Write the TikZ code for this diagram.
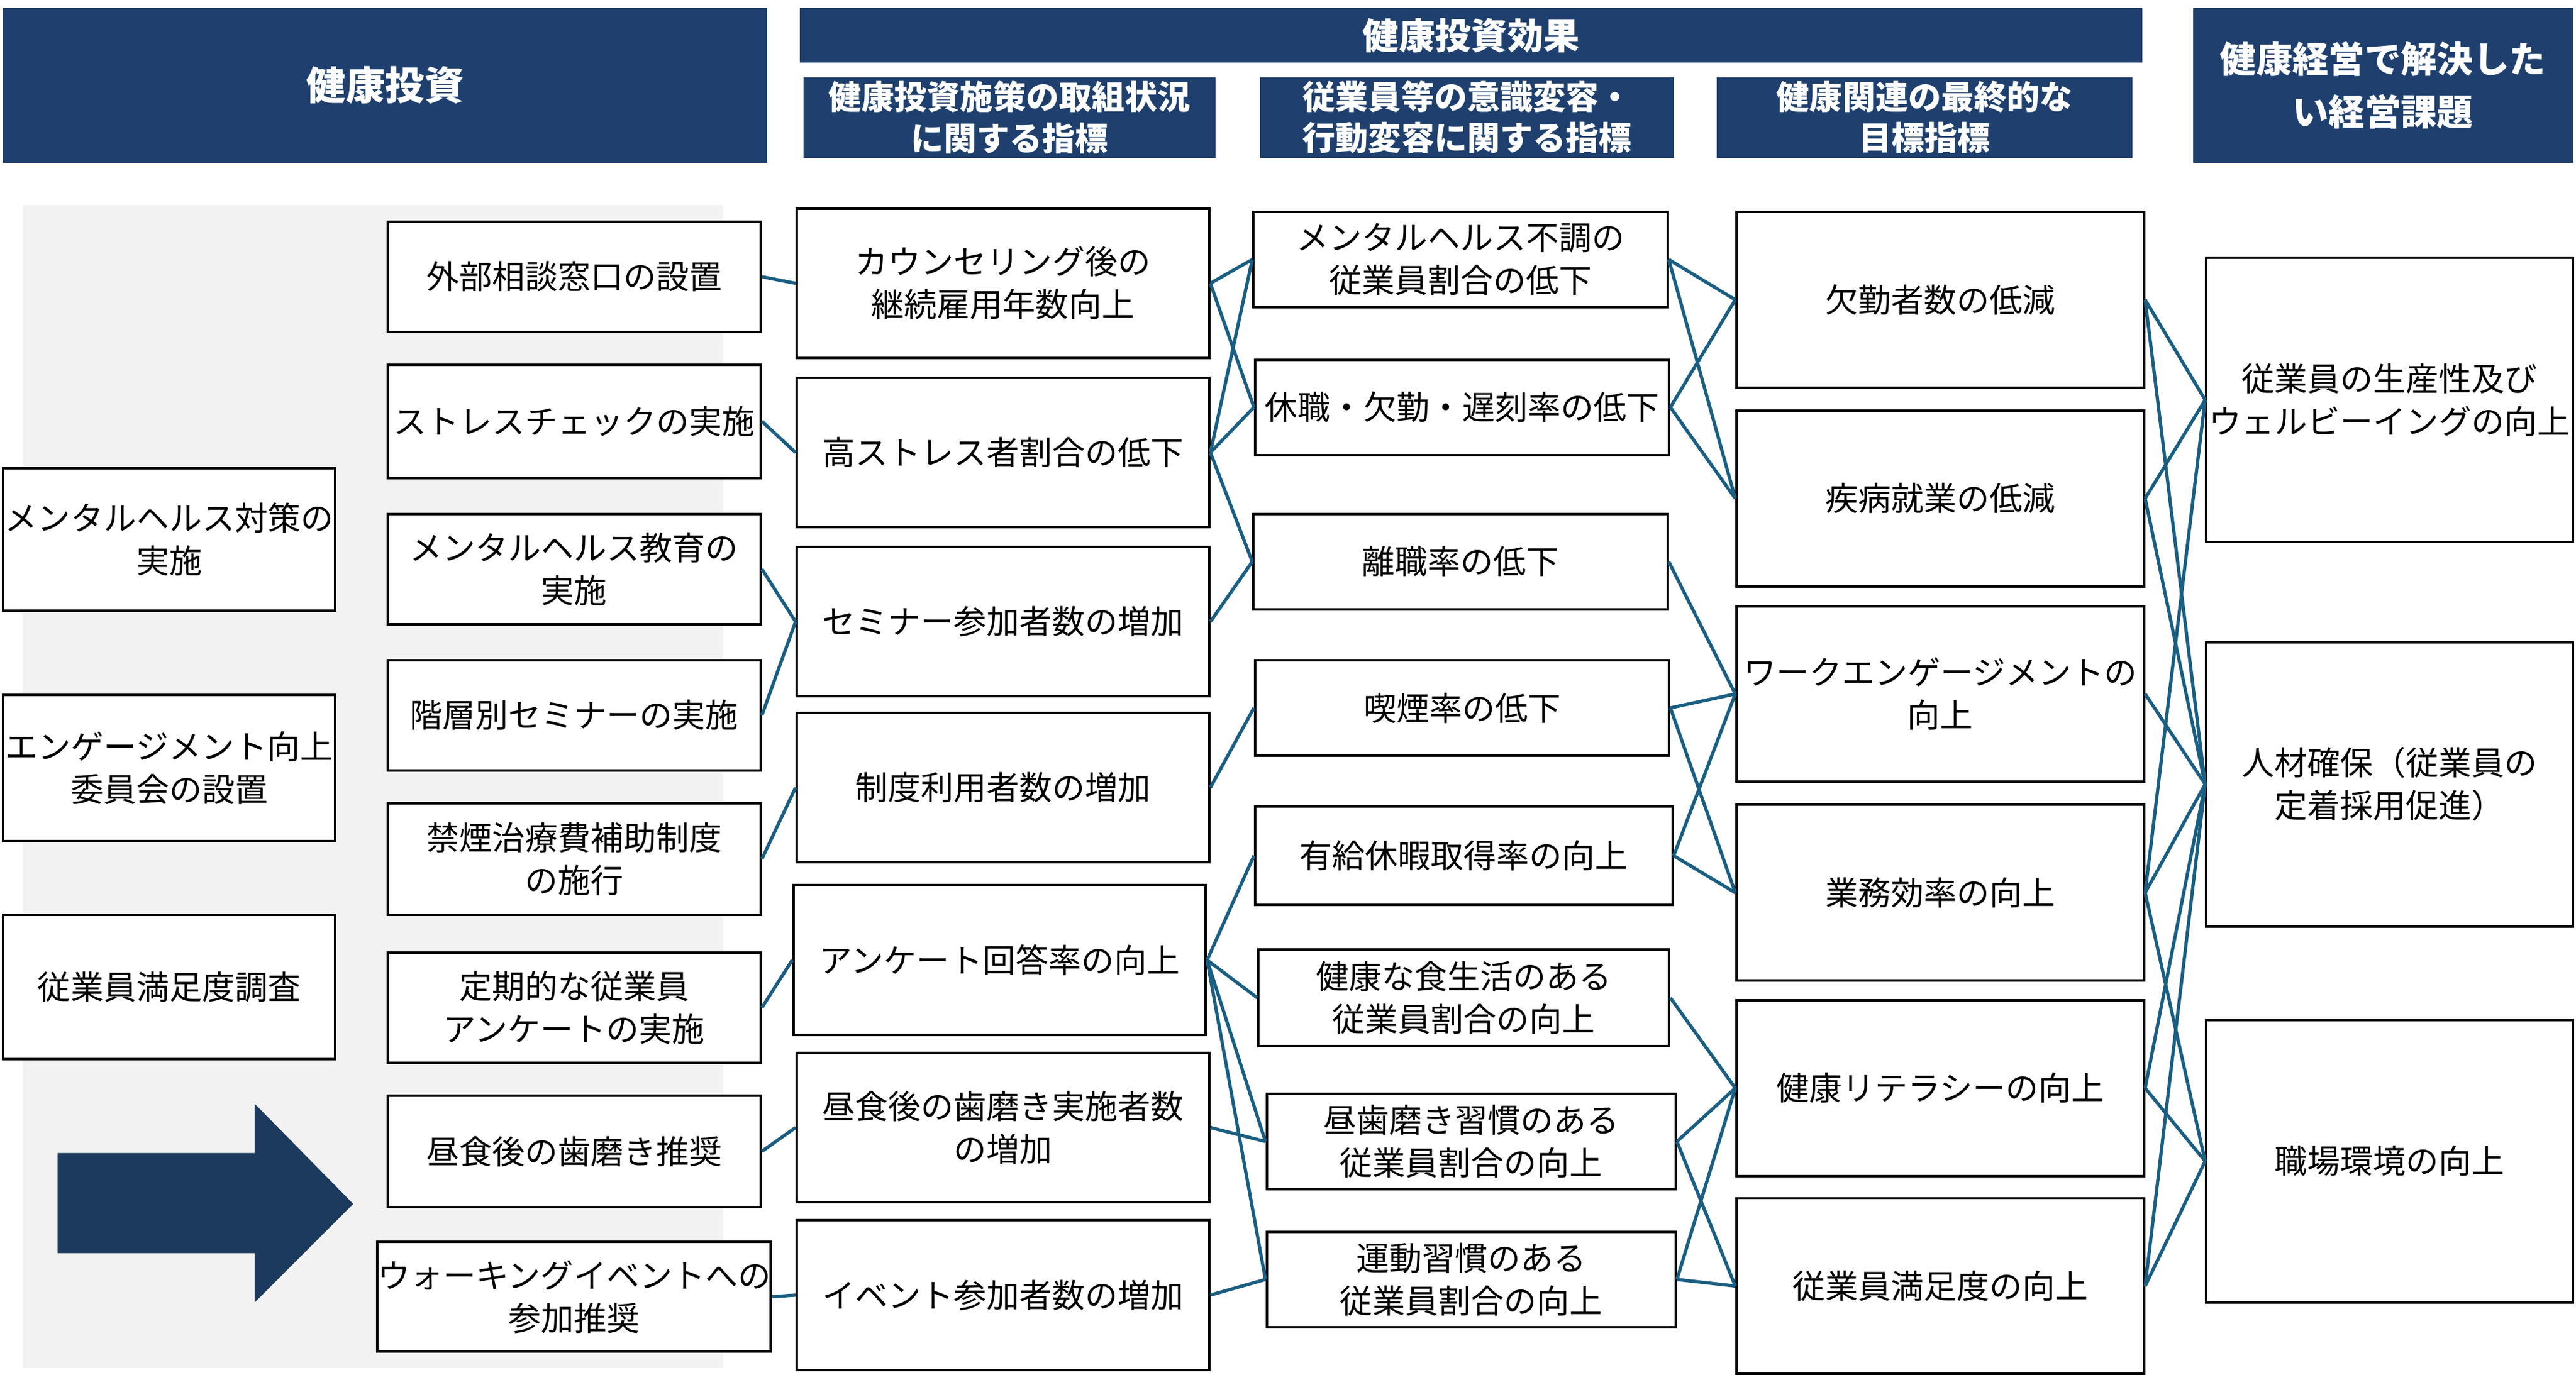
\documentclass[tikz,border=0pt]{standalone}
\usepackage{fontspec}
\setmainfont{Noto Sans CJK JP}
\definecolor{navy}{RGB}{31,64,110}
\definecolor{darrow}{RGB}{27,58,94}
\definecolor{link}{RGB}{26,94,130}
\tikzset{
  box/.style={draw=black,line width=1.5pt,fill=white,align=center,inner sep=0pt,font=\fontsize{20}{26}\selectfont},
  head/.style={fill=navy,text=white,align=center,inner sep=0pt,font=\fontsize{20}{25}\selectfont\bfseries},
  con/.style={draw=link,line width=2pt}
}
\begin{document}
\begin{tikzpicture}[x=1pt,y=1pt]
    \useasboundingbox (0,0) rectangle (1568,-837);

    %%%%%%%%%%%%%%%%%%% Headers %%%%%%%%%%%%%%%%%%%%%%%%%%%%%%%
    \node [head,minimum width=465,minimum height=94,font=\fontsize{24}{30}\selectfont\bfseries] (h1) at (234.5,-52) {健康投資};
    \node [head,minimum width=817,minimum height=33,font=\fontsize{22}{26}\selectfont\bfseries] (h2) at (895.5,-21.5) {健康投資効果};
    \node [head,minimum width=251,minimum height=49] (h21) at (614.5,-71.5) {健康投資施策の取組状況\\に関する指標};
    \node [head,minimum width=252,minimum height=49] (h22) at (893,-71.5) {従業員等の意識変容・\\行動変容に関する指標};
    \node [head,minimum width=253,minimum height=49] (h23) at (1171.5,-71.5) {健康関連の最終的な\\目標指標};
    \node [head,minimum width=231,minimum height=94,font=\fontsize{22}{32}\selectfont\bfseries] (h3) at (1450.5,-52) {健康経営で解決した\\い経営課題};

    % background
    \fill [gray!10] (14,-125) rectangle (440,-833);

    %%%%%%%%%%%%%%%%%%% Left %%%%%%%%%%%%%%%%%%%%%%%%%%%%%%%
    \node [box,minimum width=202,minimum height=87] (a1) at (103,-328.5) {メンタルヘルス対策の\\実施};
    \node [box,minimum width=202,minimum height=89] (a2) at (103,-467.5) {エンゲージメント向上\\委員会の設置};
    \node [box,minimum width=202,minimum height=88] (a3) at (103,-601) {従業員満足度調査};

    % big arrow
    \fill [darrow] (35,-702) -- (155,-702) -- (155,-672) -- (215,-733) -- (155,-793) -- (155,-763) -- (35,-763) -- cycle;

    %%%%%%%%%%%%%%%%%%% Measures %%%%%%%%%%%%%%%%%%%%%%%%%%%%%%%
    \node [box,minimum width=227,minimum height=67] (b1) at (349.5,-168.5) {外部相談窓口の設置};
    \node [box,minimum width=227,minimum height=69] (b2) at (349.5,-256.5) {ストレスチェックの実施};
    \node [box,minimum width=227,minimum height=67] (b3) at (349.5,-346.5) {メンタルヘルス教育の\\実施};
    \node [box,minimum width=227,minimum height=67] (b4) at (349.5,-435.5) {階層別セミナーの実施};
    \node [box,minimum width=227,minimum height=68] (b5) at (349.5,-523) {禁煙治療費補助制度\\の施行};
    \node [box,minimum width=227,minimum height=67] (b6) at (349.5,-613.5) {定期的な従業員\\アンケートの実施};
    \node [box,minimum width=227,minimum height=68] (b7) at (349.5,-701) {昼食後の歯磨き推奨};
    \node [box,minimum width=227,minimum height=67] (b8) at (349.5,-789.5) {ウォーキングイベントへの\\参加推奨};

    %%%%%%%%%%%%%%%%%%% Efforts %%%%%%%%%%%%%%%%%%%%%%%%%%%%%%%
    \node [box,minimum width=251,minimum height=91] (c1) at (610.5,-172.5) {カウンセリング後の\\継続雇用年数向上};
    \node [box,minimum width=251,minimum height=91] (c2) at (610.5,-275.5) {高ストレス者割合の低下};
    \node [box,minimum width=251,minimum height=91] (c3) at (610.5,-378.5) {セミナー参加者数の増加};
    \node [box,minimum width=251,minimum height=91] (c4) at (610.5,-479.5) {制度利用者数の増加};
    \node [box,minimum width=251,minimum height=91] (c5) at (608.5,-584.5) {アンケート回答率の向上};
    \node [box,minimum width=251,minimum height=91] (c6) at (610.5,-686.5) {昼食後の歯磨き実施者数\\の増加};
    \node [box,minimum width=251,minimum height=91] (c7) at (610.5,-788.5) {イベント参加者数の増加};

    %%%%%%%%%%%%%%%%%%% Behaviour %%%%%%%%%%%%%%%%%%%%%%%%%%%%%%%
    \node [box,minimum width=252,minimum height=58] (d1) at (889,-158) {メンタルヘルス不調の\\従業員割合の低下};
    \node [box,minimum width=252,minimum height=58] (d2) at (890,-248) {休職・欠勤・遅刻率の低下};
    \node [box,minimum width=252,minimum height=58] (d3) at (889,-342) {離職率の低下};
    \node [box,minimum width=252,minimum height=58] (d4) at (890,-431) {喫煙率の低下};
    \node [box,minimum width=254,minimum height=60] (d5) at (891,-521) {有給休暇取得率の向上};
    \node [box,minimum width=250,minimum height=59] (d6) at (891,-607.5) {健康な食生活のある\\従業員割合の向上};
    \node [box,minimum width=249,minimum height=58] (d7) at (895.5,-695) {昼歯磨き習慣のある\\従業員割合の向上};
    \node [box,minimum width=249,minimum height=58] (d8) at (895.5,-779) {運動習慣のある\\従業員割合の向上};

    %%%%%%%%%%%%%%%%%%% Goals %%%%%%%%%%%%%%%%%%%%%%%%%%%%%%%
    \node [box,minimum width=248,minimum height=107] (e1) at (1181,-182.5) {欠勤者数の低減};
    \node [box,minimum width=248,minimum height=107] (e2) at (1181,-303.5) {疾病就業の低減};
    \node [box,minimum width=248,minimum height=107] (e3) at (1181,-422.5) {ワークエンゲージメントの\\向上};
    \node [box,minimum width=248,minimum height=107] (e4) at (1181,-543.5) {業務効率の向上};
    \node [box,minimum width=248,minimum height=107] (e5) at (1181,-662.5) {健康リテラシーの向上};
    \node [box,minimum width=248,minimum height=107] (e6) at (1181,-783) {従業員満足度の向上};

    %%%%%%%%%%%%%%%%%%% Issues %%%%%%%%%%%%%%%%%%%%%%%%%%%%%%%
    \node [box,minimum width=223,minimum height=173] (f1) at (1454.5,-243.5) {従業員の生産性及び\\ウェルビーイングの向上};
    \node [box,minimum width=223,minimum height=173] (f2) at (1454.5,-477.5) {人材確保（従業員の\\定着採用促進）};
    \node [box,minimum width=223,minimum height=172] (f3) at (1454.5,-707) {職場環境の向上};

    %%%%%%%%%%%%%%%%%%% Links %%%%%%%%%%%%%%%%%%%%%%%%%%%%%%%
    \begin{scope}[on background layer/.style={}]
    \foreach \s/\t in {b1/c1,b2/c2,b3/c3,b4/c3,b5/c4,b6/c5,b7/c6,b8/c7,
        c1/d1,c1/d2,c2/d1,c2/d2,c2/d3,c3/d3,c4/d4,c5/d5,c5/d6,c5/d7,c5/d8,c6/d7,c7/d8,
        d1/e1,d1/e2,d2/e1,d2/e2,d3/e3,d4/e3,d4/e4,d5/e3,d5/e4,d6/e5,d7/e5,d7/e6,d8/e5,d8/e6,
        e1/f1,e1/f2,e2/f1,e2/f2,e3/f2,e4/f1,e4/f2,e4/f3,e5/f2,e5/f3,e6/f2,e6/f3}
        \draw [con] (\s.east) -- (\t.west);
    \end{scope}

\end{tikzpicture}
\end{document}
